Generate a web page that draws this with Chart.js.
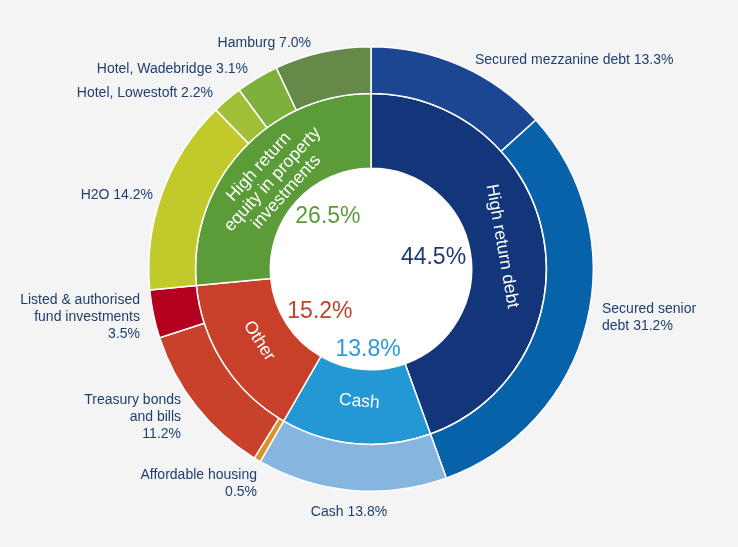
<!DOCTYPE html>
<html>
<head>
<meta charset="utf-8">
<script src="https://cdn.jsdelivr.net/npm/chart.js@4.4.1/dist/chart.umd.min.js"></script>
<style>
    html, body { margin: 0; padding: 0; background: #f4f4f5; }
    canvas { display: block; }
</style>
</head>
<body>
<canvas id="myChart" width="738" height="547"></canvas>
<script>
// Anillo exterior (detalle)
const outerLabels = [
    ["Secured mezzanine debt"],
    ["Secured senior", "debt"],
    ["Cash"],
    ["Affordable housing"],
    ["Treasury bonds", "and bills"],
    ["Listed & authorised", "fund investments"],
    ["H2O"],
    ["Hotel, Lowestoft"],
    ["Hotel, Wadebridge"],
    ["Hamburg"]
];
const outerValues = [13.3, 31.2, 13.8, 0.5, 11.2, 3.5, 14.2, 2.2, 3.1, 7.0];
const outerColors = ["#1c4692", "#0762aa", "#86b6df", "#de8f2b", "#c8412a",
                     "#b3001f", "#c2c92a", "#9fbf36", "#7eb13b", "#658948"];

// Anillo interior (grupos)
const innerLabels = [["High return debt"], ["Cash"], ["Other"], ["High return", "equity in property", "investments"]];
const innerValues = [44.5, 13.8, 15.2, 26.5];
const innerColors = ["#13357a", "#2497d5", "#c8402a", "#5b9c39"];
const innerPctColors = ["#1f3b73", "#2b9ad8", "#c2412b", "#5b9c39"];

// Posición de las etiquetas exteriores (texto, no marcas)
const outerLabelLayout = [
    { x: 475, y: 60, align: "left", newLine: false },
    { x: 602, y: 309, align: "left", newLine: false },
    { x: 349, y: 512, align: "center", newLine: false },
    { x: 257, y: 475, align: "right", newLine: true },
    { x: 181, y: 400, align: "right", newLine: true },
    { x: 140, y: 300, align: "right", newLine: true },
    { x: 153, y: 195, align: "right", newLine: false },
    { x: 213, y: 93, align: "right", newLine: false },
    { x: 248, y: 69, align: "right", newLine: false },
    { x: 311, y: 43, align: "right", newLine: false }
];
// Ajuste de los porcentajes del centro: [desvío de ángulo en grados, factor de radio]
const pctLayout = [[0, 0.63], [-3, 0.80], [-7, 0.66], [8, 0.67]];

const FONT = "'Liberation Sans', Arial, sans-serif";
const LABEL_COLOR = "#1f3f6e";

/**
 * Dibuja el hueco blanco del centro
 */
const huecoPlugin = {
    id: "hueco",
    beforeDatasetsDraw(chart) {
        const arc = chart.getDatasetMeta(1).data[0];
        if (!arc) return;
        const { x, y, innerRadius } = arc.getProps(["x", "y", "innerRadius"], true);
        const ctx = chart.ctx;
        ctx.save();
        ctx.fillStyle = "#ffffff";
        ctx.beginPath();
        ctx.arc(x, y, innerRadius, 0, Math.PI * 2);
        ctx.fill();
        ctx.restore();
    }
};

/**
 * Textos del anillo interior, porcentajes centrales y etiquetas exteriores
 */
const textosPlugin = {
    id: "textos",
    afterDatasetsDraw(chart) {
        const ctx = chart.ctx;
        const inner = chart.getDatasetMeta(1).data;

        inner.forEach((arc, i) => {
            const p = arc.getProps(["x", "y", "startAngle", "endAngle", "innerRadius", "outerRadius"], true);
            const mid = (p.startAngle + p.endAngle) / 2;
            const r = (p.innerRadius + p.outerRadius) / 2 - 5;
            let rot = mid + Math.PI / 2;
            const norm = ((rot % (2 * Math.PI)) + 2 * Math.PI) % (2 * Math.PI);
            if (norm > Math.PI / 2 && norm < 3 * Math.PI / 2) rot += Math.PI;

            // Texto curvo dentro del anillo
            ctx.save();
            ctx.translate(p.x + r * Math.cos(mid), p.y + r * Math.sin(mid));
            ctx.rotate(rot);
            ctx.fillStyle = "#ffffff";
            ctx.font = "17.5px " + FONT;
            ctx.textAlign = "center";
            ctx.textBaseline = "middle";
            const lines = innerLabels[i];
            const lh = 18.5;
            lines.forEach((t, k) => {
                ctx.fillText(t, 0, (k - (lines.length - 1) / 2) * lh);
            });
            ctx.restore();

            // Porcentaje en el hueco
            const a = mid + pctLayout[i][0] * Math.PI / 180;
            const pr = p.innerRadius * pctLayout[i][1];
            ctx.save();
            ctx.fillStyle = innerPctColors[i];
            ctx.font = "23px " + FONT;
            ctx.textAlign = "center";
            ctx.textBaseline = "middle";
            ctx.fillText(innerValues[i].toFixed(1) + "%", p.x + pr * Math.cos(a), p.y + pr * Math.sin(a));
            ctx.restore();
        });

        // Etiquetas exteriores
        ctx.save();
        ctx.fillStyle = LABEL_COLOR;
        ctx.font = "14px " + FONT;
        ctx.textBaseline = "middle";
        outerLabels.forEach((label, i) => {
            const lay = outerLabelLayout[i];
            const pct = outerValues[i].toFixed(1) + "%";
            const lines = label.slice();
            if (lay.newLine) lines.push(pct);
            else lines[lines.length - 1] += " " + pct;
            ctx.textAlign = lay.align;
            lines.forEach((t, k) => ctx.fillText(t, lay.x, lay.y + k * 17));
        });
        ctx.restore();
    }
};

const ctx = document.getElementById("myChart");
new Chart(ctx.getContext("2d"), {
    type: "doughnut",
    data: {
        labels: outerLabels.map(l => l.join(" ")),
        datasets: [
            {
                data: outerValues,
                backgroundColor: outerColors,
                borderColor: "#ffffff",
                borderWidth: 1.5,
                weight: 47
            },
            {
                data: innerValues,
                backgroundColor: innerColors,
                borderColor: "#ffffff",
                borderWidth: 1.5,
                weight: 75
            }
        ]
    },
    options: {
        responsive: false,
        animation: false,
        cutout: "45.3%",
        layout: {
            padding: { left: 148, right: 144, top: 46, bottom: 55 }
        },
        plugins: {
            legend: { display: false },
            tooltip: { enabled: false }
        }
    },
    plugins: [huecoPlugin, textosPlugin]
});
</script>
</body>
</html>
